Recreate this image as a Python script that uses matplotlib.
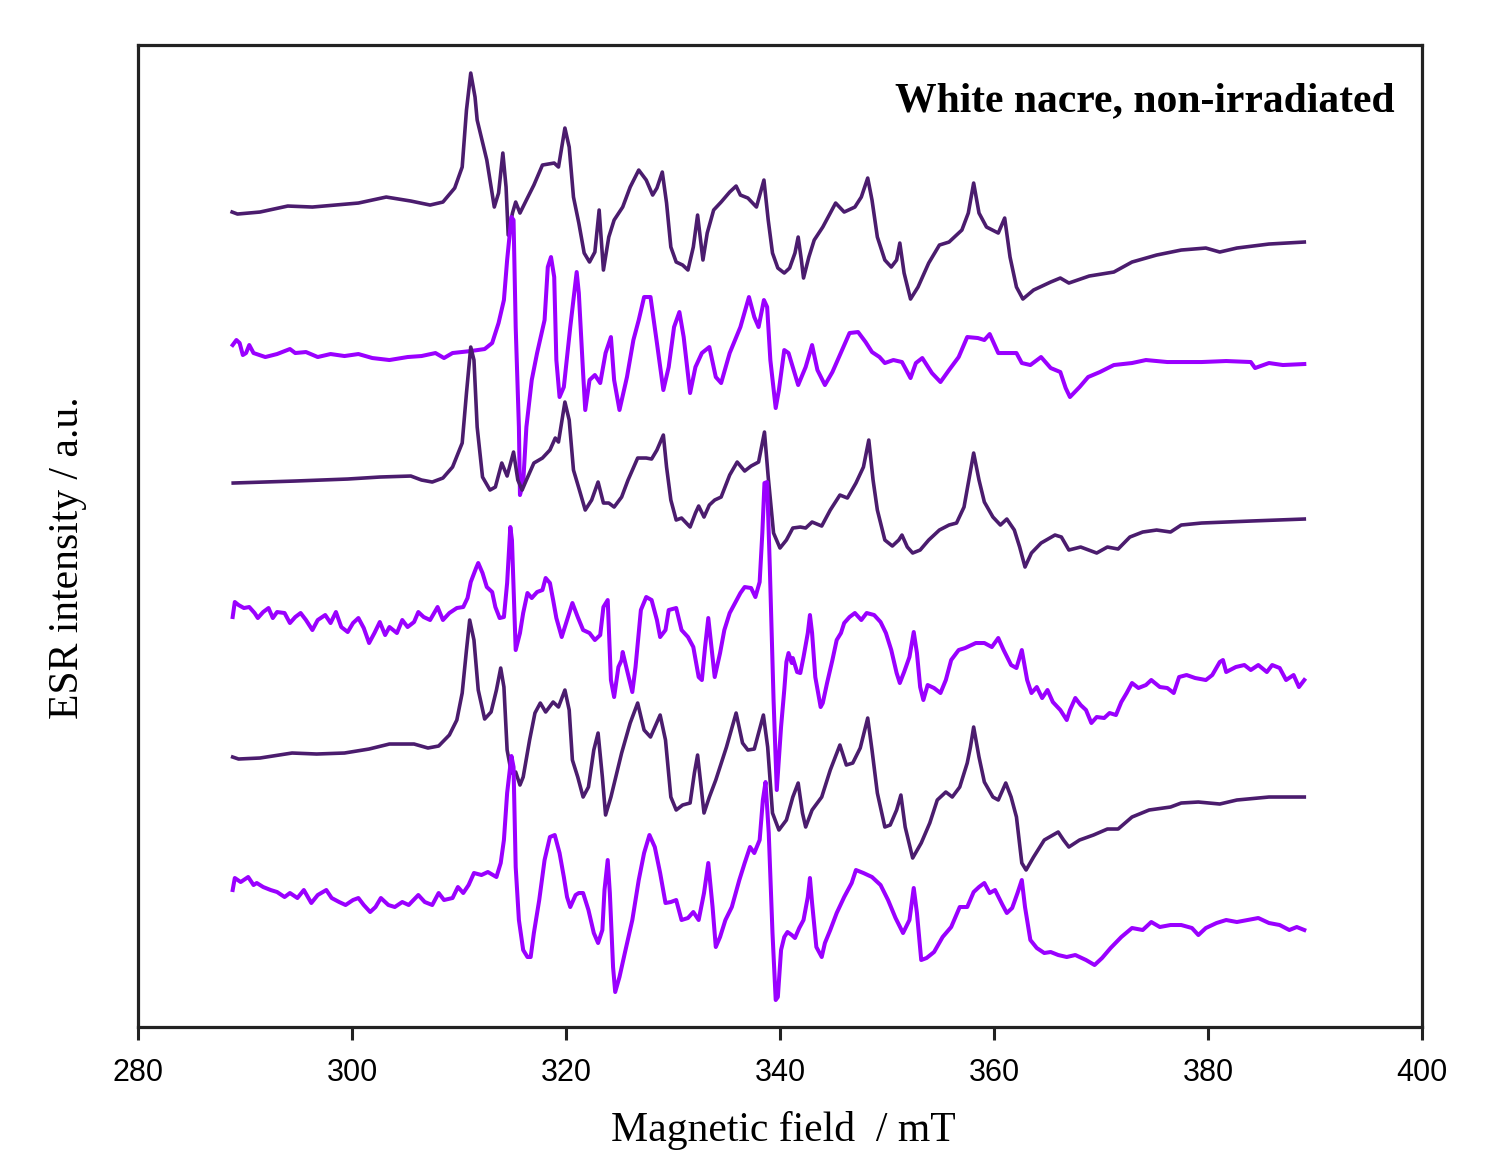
import numpy as np
import matplotlib.pyplot as plt

# ESR spectra of white nacre (non-irradiated), stacked; intensities in a.u.
# relative to each trace's own low-field baseline.

field_1 = [288.8, 289.3, 291.4, 294.0, 296.3, 300.6, 303.2, 305.5, 307.3, 308.5,
           309.6, 310.3, 310.7, 311.1, 311.5, 311.7, 312.6, 313.3, 313.7, 314.1,
           314.4, 314.6, 315.0, 315.3, 315.7, 316.3, 317.0, 317.8, 318.9, 319.3,
           319.9, 320.3, 320.7, 321.2, 321.7, 322.2, 322.7, 323.1, 323.5, 324.0,
           324.5, 325.3, 326.0, 326.8, 327.5, 328.1, 328.5, 329.0, 329.4, 329.8,
           330.3, 330.9, 331.4, 331.9, 332.3, 332.8, 333.2, 333.8, 334.5, 335.3,
           335.9, 336.3, 337.0, 337.8, 338.5, 338.9, 339.3, 339.8, 340.4, 340.9,
           341.4, 341.7, 342.0, 342.2, 342.7, 343.2, 344.0, 345.2, 346.0, 347.0,
           347.6, 348.2, 348.6, 349.1, 349.8, 350.4, 350.9, 351.2, 351.6, 352.2,
           352.9, 353.9, 354.9, 355.8, 357.0, 357.6, 358.1, 358.6, 359.3, 360.4,
           361.0, 361.5, 362.1, 362.7, 363.7, 365.3, 366.2, 367.0, 368.9, 371.2,
           372.9, 375.2, 377.5, 379.8, 381.1, 382.7, 385.7, 389.0]
int_1 = [0.0, -0.2, 0.0, 0.6, 0.5, 0.9, 1.5, 1.1, 0.7, 1.0,
         2.4, 4.5, 10.2, 13.9, 11.5, 9.2, 5.2, 0.5, 1.9, 5.9,
         2.5, -2.3, -0.1, 1.0, -0.1, 1.2, 2.7, 4.7, 4.9, 4.5,
         8.4, 6.5, 1.5, -1.1, -4.1, -5.0, -4.0, 0.2, -5.8, -2.5,
         -0.8, 0.5, 2.5, 4.2, 3.2, 1.7, 2.4, 4.0, 0.9, -3.5,
         -5.0, -5.3, -5.8, -3.5, -0.3, -4.8, -2.1, 0.2, 1.0, 2.0,
         2.6, 1.7, 1.4, 0.5, 3.2, -0.8, -4.1, -5.6, -6.1, -5.6,
         -4.1, -2.5, -4.8, -6.6, -4.5, -2.8, -1.5, 0.9, 0.0, 0.5,
         1.5, 3.4, 1.2, -2.5, -4.8, -5.5, -4.8, -3.1, -6.1, -8.7,
         -7.5, -5.1, -3.3, -3.0, -1.8, -0.1, 2.9, -0.1, -1.5, -2.1,
         -0.6, -4.5, -7.5, -8.7, -7.8, -7.0, -6.6, -7.1, -6.4, -6.0,
         -5.0, -4.3, -3.8, -3.6, -4.0, -3.6, -3.2, -3.0]

field_2 = [288.85, 289.2, 289.5, 289.8, 290.1, 290.4, 290.8, 291.9, 293.0, 294.2,
           294.7, 295.7, 296.8, 298.0, 299.3, 300.6, 301.9, 303.5, 305.2, 306.5,
           307.8, 308.6, 309.4, 311.1, 312.4, 313.1, 313.7, 314.2, 314.5, 314.9,
           315.1, 315.3, 315.6, 315.7, 316.0, 316.3, 316.8, 317.3, 318.0, 318.3,
           318.6, 318.9, 319.1, 319.4, 319.8, 320.4, 321.0, 321.2, 321.6, 321.8,
           322.2, 322.7, 323.2, 323.7, 324.2, 324.5, 325.0, 325.7, 326.3, 326.8,
           327.3, 327.9, 328.5, 329.1, 329.6, 330.1, 330.6, 331.0, 331.6, 332.1,
           332.7, 333.4, 334.0, 334.5, 335.3, 336.3, 337.1, 337.6, 338.0, 338.5,
           338.8, 339.1, 339.6, 339.9, 340.4, 340.8, 341.7, 342.4, 343.0, 343.5,
           344.2, 344.9, 345.8, 346.5, 347.3, 348.0, 348.6, 349.3, 349.8, 350.6,
           351.4, 352.2, 352.7, 353.3, 354.2, 355.0, 355.8, 356.7, 357.5, 358.5,
           359.1, 359.6, 360.4, 361.2, 362.1, 362.6, 363.4, 364.4, 365.3, 366.2,
           366.7, 367.1, 368.0, 368.8, 369.9, 371.2, 372.9, 374.2, 376.2, 377.5,
           379.4, 381.7, 384.0, 384.4, 385.7, 387.0, 389.0]
int_2 = [0.5, 1.0, 0.7, -0.5, -0.3, 0.5, -0.3, -0.7, -0.4, 0.1,
         -0.3, -0.2, -0.7, -0.4, -0.6, -0.4, -0.8, -1.0, -0.7, -0.6,
         -0.3, -0.8, -0.3, -0.1, 0.1, 0.7, 2.7, 5.0, 9.0, 13.3,
         13.0, 2.3, -7.7, -14.5, -13.3, -7.7, -3.0, -0.3, 3.0, 8.3,
         9.3, 7.3, -1.0, -4.7, -3.7, 2.3, 7.8, 5.7, -2.3, -6.0,
         -3.0, -2.5, -3.3, -0.3, 1.3, -3.0, -6.0, -2.7, 1.0, 3.0,
         5.3, 5.3, 0.7, -4.0, -1.7, 2.3, 3.8, 1.3, -4.3, -1.7,
         -0.3, 0.3, -2.7, -3.3, -0.3, 2.3, 5.3, 3.3, 2.3, 5.0,
         4.3, -1.0, -5.8, -4.0, 0.0, -0.3, -3.5, -1.7, 0.5, -2.0,
         -3.5, -2.2, 0.0, 1.7, 1.8, 0.8, -0.2, -0.7, -1.3, -1.0,
         -1.2, -2.8, -1.3, -0.8, -2.3, -3.2, -2.0, -0.7, 1.3, 1.2,
         1.0, 1.6, -0.3, -0.3, -0.3, -1.3, -1.5, -0.7, -1.8, -2.2,
         -3.8, -4.7, -3.7, -2.7, -2.2, -1.5, -1.3, -1.0, -1.2, -1.2,
         -1.2, -1.1, -1.2, -1.8, -1.3, -1.5, -1.4]

field_3 = [288.9, 294.7, 299.6, 302.6, 305.5, 306.5, 307.5, 308.5, 309.4, 310.3,
           310.7, 311.1, 311.4, 311.7, 312.2, 312.9, 313.4, 314.0, 314.5, 315.1,
           315.5, 315.9, 316.3, 317.0, 317.8, 318.5, 319.0, 319.3, 319.9, 320.3,
           320.7, 321.2, 321.8, 322.4, 323.0, 323.5, 324.0, 324.5, 325.2, 325.8,
           326.7, 327.5, 328.0, 328.5, 329.1, 329.4, 329.8, 330.3, 330.8, 331.6,
           332.1, 332.4, 332.9, 333.4, 333.9, 334.5, 335.3, 336.0, 336.7, 337.3,
           338.0, 338.55, 338.9, 339.4, 340.0, 340.6, 341.2, 341.9, 342.4, 343.0,
           343.9, 344.7, 345.6, 346.3, 347.1, 347.8, 348.3, 348.7, 349.1, 349.8,
           350.5, 351.1, 351.4, 351.9, 352.4, 353.1, 353.9, 354.9, 355.8, 356.5,
           357.2, 357.7, 358.1, 358.6, 359.1, 359.9, 360.6, 361.2, 361.9, 362.4,
           362.9, 363.5, 364.4, 365.7, 366.3, 367.0, 368.1, 369.6, 370.6, 371.6,
           372.7, 373.9, 375.2, 376.5, 377.5, 379.4, 384.0, 389.0]
int_3 = [0.0, 0.2, 0.4, 0.6, 0.7, 0.3, 0.1, 0.5, 1.6, 4.0,
         9.0, 13.6, 12.3, 5.6, 0.6, -0.7, -0.4, 2.0, 0.7, 3.1,
         0.3, -0.7, 0.3, 2.0, 2.5, 3.3, 4.5, 4.1, 8.1, 6.3,
         1.3, -0.5, -2.7, -1.7, 0.1, -2.0, -2.0, -2.4, -1.4, 0.3,
         2.5, 2.5, 2.4, 3.3, 4.8, 1.6, -1.7, -3.7, -3.5, -4.4,
         -3.0, -2.3, -3.4, -2.2, -1.7, -1.4, 0.8, 2.1, 1.2, 1.7,
         2.1, 5.1, 0.6, -5.0, -6.5, -5.7, -4.5, -4.4, -4.5, -3.9,
         -4.3, -2.7, -1.2, -1.5, 0.0, 1.6, 4.3, 0.3, -2.7, -5.7,
         -6.3, -5.7, -5.2, -6.4, -7.0, -6.7, -5.7, -4.7, -4.2, -4.0,
         -2.4, 0.6, 3.0, 0.3, -1.9, -3.4, -4.2, -3.6, -4.7, -6.4,
         -8.4, -7.0, -6.0, -5.2, -5.4, -6.7, -6.4, -7.0, -6.4, -6.6,
         -5.4, -4.9, -4.7, -4.9, -4.2, -4.0, -3.8, -3.6]

field_4 = [288.85, 289.05, 289.4, 289.9, 290.4, 290.9, 291.2, 291.7, 292.2, 292.6,
           293.0, 293.7, 294.2, 294.7, 295.2, 295.7, 296.3, 296.8, 297.5, 298.0,
           298.5, 299.0, 299.6, 300.1, 300.6, 301.1, 301.6, 302.1, 302.6, 303.1,
           303.5, 304.2, 304.7, 305.2, 305.8, 306.2, 306.7, 307.3, 308.0, 308.5,
           309.1, 309.8, 310.4, 310.8, 311.1, 311.6, 311.8, 312.2, 312.6, 313.1,
           313.4, 313.8, 314.2, 314.5, 314.8, 314.95, 315.1, 315.3, 315.7, 316.0,
           316.4, 316.8, 317.3, 317.8, 318.1, 318.5, 318.8, 319.1, 319.6, 320.1,
           320.6, 321.1, 321.6, 322.2, 322.7, 323.2, 323.5, 323.9, 324.2, 324.5,
           324.9, 325.2, 325.3, 325.7, 326.2, 326.5, 327.0, 327.5, 328.0, 328.5,
           328.8, 329.3, 329.6, 330.3, 330.8, 331.4, 331.9, 332.4, 332.7, 333.0,
           333.3, 333.6, 333.9, 334.4, 334.8, 335.3, 335.8, 336.3, 336.7, 337.3,
           337.7, 338.1, 338.35, 338.55, 338.8, 339.05, 339.4, 339.7, 340.1, 340.4,
           340.6, 340.8, 341.1, 341.2, 341.6, 341.9, 342.2, 342.6, 342.8, 343.0,
           343.3, 343.8, 344.0, 344.4, 344.9, 345.3, 345.7, 346.0, 346.5, 347.0,
           347.6, 348.1, 348.8, 349.4, 349.9, 350.4, 350.9, 351.2, 351.6, 352.1,
           352.5, 352.8, 353.1, 353.4, 353.8, 354.4, 355.0, 355.5, 356.0, 356.7,
           357.3, 358.3, 359.1, 359.8, 360.4, 360.9, 361.6, 362.1, 362.6, 363.1,
           363.5, 364.0, 364.5, 365.0, 365.5, 366.2, 366.8, 367.1, 367.6, 368.1,
           368.6, 369.1, 369.6, 370.3, 370.8, 371.4, 371.9, 372.4, 372.9, 373.5,
           374.2, 374.7, 375.5, 376.2, 376.8, 377.3, 378.0, 378.8, 379.8, 380.4,
           381.1, 381.4, 381.7, 382.6, 383.4, 384.0, 384.7, 385.5, 386.0, 386.7,
           387.3, 388.0, 388.5, 389.0]
int_4 = [-1.0, 0.5, 0.2, -0.1, 0.0, -0.6, -1.1, -0.5, -0.1, -1.1,
         -0.5, -0.6, -1.6, -1.0, -0.6, -1.3, -2.3, -1.3, -0.8, -1.6,
         -0.5, -2.0, -2.5, -1.6, -1.1, -2.1, -3.6, -2.6, -1.5, -2.8,
         -2.0, -2.6, -1.3, -2.0, -1.5, -0.5, -1.0, -1.3, 0.0, -1.3,
         -0.6, -0.1, 0.0, 0.9, 2.5, 3.9, 4.4, 3.4, 2.0, 1.5,
         0.0, -1.1, -1.0, 2.4, 8.0, 6.7, 2.0, -4.3, -2.6, -0.6,
         1.4, 0.9, 1.5, 1.7, 2.9, 2.4, 0.7, -1.1, -3.0, -1.3,
         0.4, -1.0, -2.3, -2.6, -3.3, -2.8, 0.0, 0.7, -7.3, -9.0,
         -6.0, -5.3, -4.5, -6.3, -8.5, -6.0, -0.3, 1.0, 0.7, -1.3,
         -3.0, -2.3, -0.3, -0.1, -2.3, -3.0, -4.0, -7.0, -7.3, -4.0,
         -1.1, -4.0, -7.0, -4.6, -2.3, -0.6, 0.4, 1.4, 2.0, 1.9,
         1.0, 2.5, 7.4, 12.4, 12.5, 4.0, -9.3, -18.3, -12.0, -8.3,
         -5.5, -4.6, -5.6, -5.1, -6.5, -6.6, -5.0, -2.6, -0.8, -2.6,
         -7.0, -10.0, -9.6, -7.6, -5.3, -3.3, -2.6, -1.6, -1.0, -0.6,
         -1.3, -0.6, -0.8, -1.5, -2.6, -4.3, -6.6, -7.6, -6.5, -5.0,
         -2.5, -4.6, -8.0, -9.3, -7.8, -8.1, -8.6, -7.3, -5.3, -4.3,
         -4.1, -3.6, -3.6, -4.0, -3.1, -4.3, -5.8, -6.1, -4.3, -7.3,
         -8.6, -8.0, -9.1, -8.3, -9.5, -10.3, -11.3, -10.3, -9.1, -9.8,
         -10.3, -11.6, -11.0, -11.1, -10.6, -10.8, -9.5, -8.6, -7.6, -8.1,
         -7.8, -7.3, -8.0, -8.1, -8.6, -7.0, -6.8, -7.1, -7.3, -6.8,
         -5.5, -5.3, -6.5, -6.0, -5.8, -6.3, -5.8, -6.5, -5.8, -6.1,
         -7.3, -6.8, -8.0, -7.3]

field_5 = [288.85, 289.4, 291.4, 294.4, 296.7, 299.3, 301.6, 303.5, 305.8, 307.1,
           308.1, 309.1, 309.8, 310.3, 310.7, 311.0, 311.4, 311.8, 312.4, 313.0,
           313.5, 313.9, 314.2, 314.5, 314.9, 315.3, 315.7, 316.0, 316.6, 317.1,
           317.6, 318.1, 318.8, 319.3, 319.9, 320.3, 320.6, 321.1, 321.6, 322.1,
           322.6, 323.0, 323.4, 323.7, 324.2, 325.2, 326.0, 326.7, 327.3, 327.9,
           328.8, 329.3, 329.8, 330.3, 330.9, 331.6, 332.0, 332.3, 332.9, 333.4,
           334.0, 335.0, 335.9, 336.5, 337.0, 337.6, 338.45, 338.85, 339.3, 339.9,
           340.6, 341.2, 341.7, 342.1, 342.4, 343.0, 343.9, 344.7, 345.6, 346.2,
           346.8, 347.5, 348.2, 348.6, 349.1, 349.8, 350.3, 350.9, 351.3, 351.7,
           352.4, 353.2, 354.0, 354.7, 355.5, 356.1, 356.8, 357.5, 357.8, 358.1,
           358.6, 359.1, 359.9, 360.4, 361.1, 361.6, 362.1, 362.6, 363.0, 363.7,
           364.7, 366.0, 366.5, 367.0, 368.0, 369.3, 370.6, 371.6, 372.9, 374.5,
           376.5, 377.5, 379.1, 381.1, 382.7, 385.7, 389.0]
int_5 = [0.0, -0.2, -0.1, 0.4, 0.3, 0.4, 0.8, 1.3, 1.3, 0.9,
         1.1, 2.2, 3.7, 6.4, 10.7, 13.7, 11.7, 6.7, 3.8, 4.5,
         6.7, 8.9, 7.0, 0.7, -1.6, -1.5, -2.8, -2.0, 1.7, 4.4,
         5.4, 4.5, 5.5, 5.0, 6.7, 4.7, -0.3, -2.0, -4.0, -3.0,
         0.7, 2.4, -2.0, -5.8, -4.0, 0.4, 3.4, 5.4, 2.7, 2.0,
         4.2, 1.7, -4.0, -5.3, -4.8, -4.6, -1.6, 0.2, -5.6, -4.0,
         -2.3, 1.0, 4.4, 1.4, 0.7, 0.8, 4.2, 1.0, -5.6, -7.3,
         -6.3, -4.0, -2.6, -5.6, -7.0, -5.3, -4.0, -1.3, 1.2, -0.8,
         -0.6, 0.9, 3.9, 0.7, -3.6, -7.0, -6.8, -5.3, -3.8, -7.0,
         -10.1, -8.6, -6.6, -4.3, -3.5, -4.0, -3.0, -0.6, 1.0, 3.0,
         0.0, -2.5, -4.0, -4.3, -2.6, -4.0, -6.0, -10.6, -11.3, -10.0,
         -8.3, -7.5, -8.3, -9.0, -8.3, -7.8, -7.2, -7.2, -6.0, -5.3,
         -5.0, -4.6, -4.5, -4.7, -4.3, -4.0, -4.0]

field_6 = [288.85, 289.05, 289.6, 290.3, 290.8, 291.1, 291.7, 292.4, 293.0, 293.7,
           294.2, 294.9, 295.5, 296.2, 296.8, 297.6, 298.1, 298.8, 299.4, 300.1,
           300.6, 301.1, 301.7, 302.2, 302.7, 303.4, 304.0, 304.7, 305.3, 306.2,
           306.8, 307.5, 308.1, 308.6, 309.4, 309.9, 310.4, 310.9, 311.4, 312.1,
           312.7, 313.5, 313.9, 314.2, 314.5, 314.9, 315.1, 315.3, 315.6, 316.0,
           316.4, 316.7, 317.0, 317.5, 318.0, 318.5, 318.95, 319.4, 319.8, 320.1,
           320.4, 320.9, 321.2, 321.6, 322.1, 322.6, 323.0, 323.4, 323.6, 323.9,
           324.1, 324.4, 324.6, 325.0, 325.5, 326.2, 326.8, 327.3, 327.8, 328.3,
           328.8, 329.3, 329.8, 330.3, 330.8, 331.4, 331.9, 332.4, 332.9, 333.3,
           333.7, 334.0, 334.4, 334.9, 335.5, 336.2, 336.7, 337.2, 337.6, 338.1,
           338.4, 338.65, 338.95, 339.3, 339.6, 339.8, 340.1, 340.4, 340.7, 341.1,
           341.4, 341.8, 342.2, 342.6, 342.8, 343.0, 343.4, 343.9, 344.2, 344.7,
           345.3, 346.0, 346.7, 347.1, 347.8, 348.6, 349.4, 350.1, 350.8, 351.5,
           352.1, 352.5, 352.8, 353.2, 353.7, 354.4, 355.2, 356.0, 356.8, 357.5,
           358.1, 358.6, 359.1, 359.6, 360.1, 360.8, 361.2, 361.7, 362.2, 362.6,
           362.9, 363.4, 364.0, 364.7, 365.3, 366.0, 366.8, 367.6, 368.6, 369.4,
           370.1, 370.9, 371.9, 372.9, 373.9, 374.7, 375.5, 376.5, 377.5, 378.5,
           379.1, 379.8, 380.8, 381.7, 382.7, 383.7, 384.7, 385.7, 386.7, 387.6,
           388.3, 389.0]
int_6 = [-0.7, 0.5, 0.1, 0.6, -0.2, 0.0, -0.4, -0.7, -0.9, -1.4,
         -1.0, -1.5, -0.7, -2.0, -1.2, -0.7, -1.5, -1.9, -2.2, -1.7,
         -1.5, -2.2, -2.9, -2.4, -1.5, -2.2, -2.4, -1.9, -2.2, -1.2,
         -1.9, -2.2, -1.0, -1.7, -1.5, -0.4, -1.0, -0.2, 1.0, 0.8,
         1.1, 0.6, 2.0, 4.3, 9.0, 12.7, 11.6, 1.6, -3.7, -6.7,
         -7.4, -7.4, -5.0, -1.7, 2.3, 4.6, 4.8, 3.0, 0.6, -1.4,
         -2.4, -1.2, -1.0, -1.0, -2.7, -5.0, -6.0, -4.7, -0.7, 2.3,
         -1.0, -8.4, -10.9, -9.4, -7.0, -3.7, 0.3, 3.0, 4.8, 3.6,
         1.0, -2.0, -1.9, -1.7, -3.7, -3.5, -2.9, -3.7, -1.0, 2.0,
         -2.4, -6.4, -5.4, -3.7, -2.4, 0.3, 2.0, 3.6, 3.0, 4.3,
         8.3, 10.1, 5.0, -5.0, -11.7, -11.4, -6.7, -5.4, -4.9, -5.2,
         -5.5, -4.5, -3.7, -1.4, 0.5, -2.0, -6.4, -7.4, -6.0, -4.7,
         -3.0, -1.4, 0.0, 1.3, 1.0, 0.6, -0.2, -1.7, -3.5, -5.0,
         -3.7, -0.5, -3.0, -7.7, -7.5, -6.9, -5.4, -4.4, -2.4, -2.4,
         -0.9, -0.4, 0.0, -1.0, -0.7, -2.2, -3.0, -2.5, -1.0, 0.3,
         -2.4, -5.7, -6.5, -7.0, -6.9, -7.2, -7.4, -7.2, -7.7, -8.2,
         -7.5, -6.5, -5.4, -4.5, -4.7, -3.9, -4.4, -4.2, -4.2, -4.5,
         -5.2, -4.5, -4.0, -3.7, -3.9, -3.7, -3.5, -4.0, -4.2, -4.7,
         -4.4, -4.7]

fields = [field_1, field_2, field_3, field_4, field_5, field_6]
intensities = [int_1, int_2, int_3, int_4, int_5, int_6]

# vertical stacking of the traces, top to bottom
offsets = [81.5, 67.7, 54.4, 42.0, 27.0, 14.4]
DARK = '#4b1c6e'
BRIGHT = '#9a00ff'
colors = [DARK, BRIGHT, DARK, BRIGHT, DARK, BRIGHT]
widths = [2.6, 2.9, 2.6, 2.9, 2.6, 2.9]

SERIF = ['Liberation Serif', 'DejaVu Serif']
SANS = ['Liberation Sans', 'DejaVu Sans']

fig = plt.figure(figsize=(15.03, 11.52), dpi=100)
ax = fig.add_axes([0.0918, 0.1085, 0.8543, 0.8524])

for f, y, off, c, lw in zip(fields, intensities, offsets, colors, widths):
    ax.plot(f, np.array(y) + off, color=c, lw=lw, solid_joinstyle='round')

ax.set_xlim(280, 400)
ax.set_ylim(0, 98.2)
ax.set_xticks(np.arange(280, 401, 20))
ax.set_yticks([])
ax.tick_params(axis='x', direction='out', length=9, width=2.2, pad=13,
               labelsize=22, colors='#222222', labelcolor='black')
for lab in ax.get_xticklabels():
    lab.set_family(SANS)
for sp in ax.spines.values():
    sp.set_linewidth(2.3)
    sp.set_color('#222222')

ax.text(0.979, 0.933, 'White nacre, non-irradiated', transform=ax.transAxes,
        ha='right', va='baseline', fontsize=30, fontweight='bold', family=SERIF)

fig.text(0.521, 1 - 1141 / 1152, 'Magnetic field  / mT', ha='center',
         va='baseline', fontsize=30, family=SERIF)
fig.text(68 / 1503, 1 - 558 / 1152, 'ESR intensity / a.u.', rotation=90,
         ha='center', va='center', fontsize=30, family=SERIF)

fig.savefig('out.png', dpi=100)
